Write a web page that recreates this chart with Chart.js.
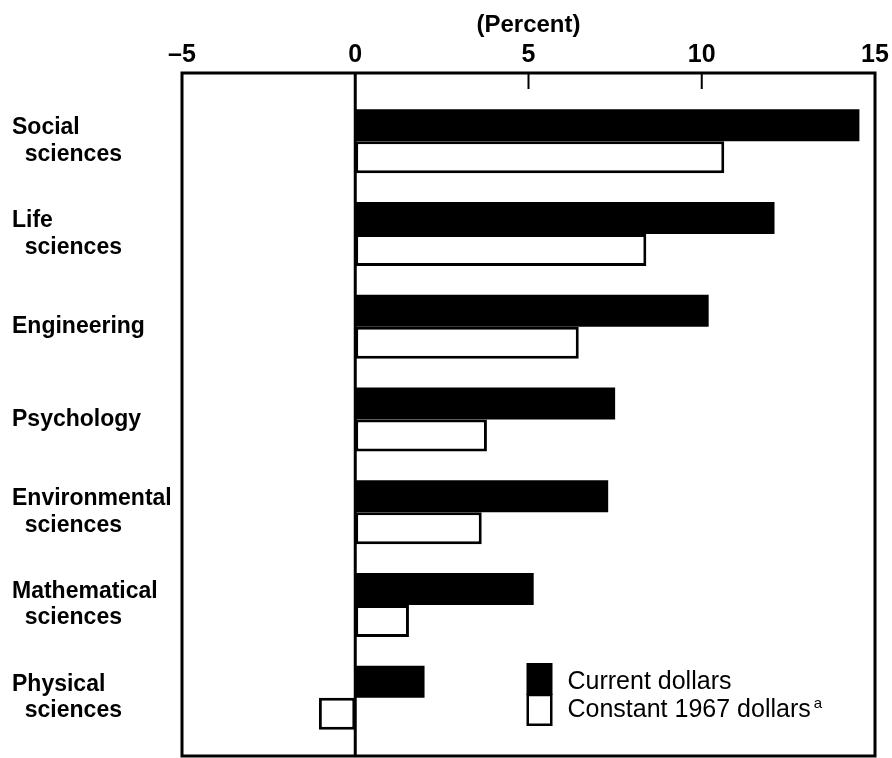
<!DOCTYPE html>
<html>
<head>
<meta charset="utf-8">
<script src="https://cdn.jsdelivr.net/npm/chart.js@4"></script>
<style>
  body { margin: 0; background: #fff; }
  #wrap { width: 892px; height: 758px; }
</style>
</head>
<body>
<div id="wrap"><canvas id="chart" width="892" height="758"></canvas></div>
<script>
// — Data —
const categories = [
  ['Social', '  sciences'],
  ['Life', '  sciences'],
  'Engineering',
  'Psychology',
  ['Environmental', '  sciences'],
  ['Mathematical', '  sciences'],
  ['Physical', '  sciences']
];
const currentDollars  = [14.55, 12.1, 10.2, 7.5, 7.3, 5.15, 2.0];
const constantDollars = [10.65, 8.4, 6.45, 3.8, 3.65, 1.55, -1.05];
const seriesNames = ['Current dollars', 'Constant 1967 dollars'];
const xTicks = [-5, 0, 5, 10, 15];

const FONT = '"Liberation Sans", Arial, sans-serif';

// Frame, zero line and the short tick marks at 5 and 10
const framePlugin = {
  id: 'frame',
  afterDatasetsDraw(chart) {
    const { ctx, chartArea: a, scales: { x } } = chart;
    const top = a.top - 22, bottom = a.bottom + 12;
    ctx.save();
    ctx.strokeStyle = '#000';
    ctx.lineWidth = 3;
    ctx.strokeRect(x.left, top, x.right - x.left, bottom - top);
    const z = x.getPixelForValue(0);
    ctx.beginPath();
    ctx.moveTo(z, top);
    ctx.lineTo(z, bottom);
    ctx.stroke();
    ctx.lineWidth = 2;
    xTicks.filter(v => v > x.min && v < x.max && v !== 0).forEach(v => {
      const px = x.getPixelForValue(v);
      ctx.beginPath();
      ctx.moveTo(px, top);
      ctx.lineTo(px, top + 16);
      ctx.stroke();
    });
    ctx.restore();
  }
};

// Legend inside the plot, lower right
const legendPlugin = {
  id: 'insideLegend',
  afterDraw(chart) {
    const { ctx, chartArea: a, scales: { x } } = chart;
    const bx = x.getPixelForValue(5) - 2;
    const by = a.bottom - 81;
    ctx.save();
    ctx.fillStyle = '#000';
    ctx.fillRect(bx, by, 26, 32);
    ctx.lineWidth = 2.5;
    ctx.strokeStyle = '#000';
    ctx.fillStyle = '#fff';
    ctx.fillRect(bx, by + 32, 26, 31);
    ctx.strokeRect(bx + 1.25, by + 32, 23.5, 29.75);
    ctx.fillStyle = '#000';
    ctx.font = '25px ' + FONT;
    ctx.textBaseline = 'alphabetic';
    ctx.textAlign = 'left';
    ctx.fillText(seriesNames[0], bx + 41, by + 26);
    ctx.fillText(seriesNames[1], bx + 41, by + 54);
    const w = ctx.measureText(seriesNames[1]).width;
    ctx.font = '15px ' + FONT;
    ctx.fillText('a', bx + 44 + w, by + 45);
    ctx.restore();
  }
};

new Chart(document.getElementById('chart'), {
  type: 'bar',
  data: {
    labels: categories,
    datasets: [{
      label: seriesNames[0],
      data: currentDollars,
      backgroundColor: '#000',
      borderWidth: 0,
      barPercentage: 1.0,
      categoryPercentage: 0.69
    }, {
      label: seriesNames[1],
      data: constantDollars,
      backgroundColor: '#fff',
      borderColor: '#000',
      borderWidth: 3,
      borderSkipped: false,
      barPercentage: 1.0,
      categoryPercentage: 0.69
    }]
  },
  options: {
    indexAxis: 'y',
    responsive: false,
    animation: false,
    layout: { padding: { left: 12, right: 17, top: 0, bottom: 14 } },
    plugins: { legend: { display: false }, tooltip: { enabled: false } },
    scales: {
      x: {
        position: 'top',
        min: -5,
        max: 15,
        afterBuildTicks: s => { s.ticks = xTicks.map(v => ({ value: v })); },
        afterFit: s => { s.height = 95; s.paddingLeft = 0; s.paddingRight = 0; },
        grid: { display: false, drawTicks: false },
        border: { display: false },
        ticks: {
          padding: 25,
          color: '#000',
          font: { family: FONT, size: 25, weight: 'bold' },
          callback: v => v < 0 ? '\u2013' + Math.abs(v) : String(v)
        },
        title: {
          display: true,
          text: '(Percent)',
          color: '#000',
          padding: { top: 11, bottom: 0 },
          font: { family: FONT, size: 24, weight: 'bold' }
        }
      },
      y: {
        afterFit: s => { s.width = 170; s.paddingTop = 0; s.paddingBottom = 0; },
        grid: { display: false, drawTicks: false },
        border: { display: false },
        ticks: {
          crossAlign: 'far',
          color: '#000',
          font: { family: FONT, size: 23, weight: 'bold', lineHeight: 1.15 }
        }
      }
    }
  },
  plugins: [framePlugin, legendPlugin]
});
</script>
</body>
</html>
